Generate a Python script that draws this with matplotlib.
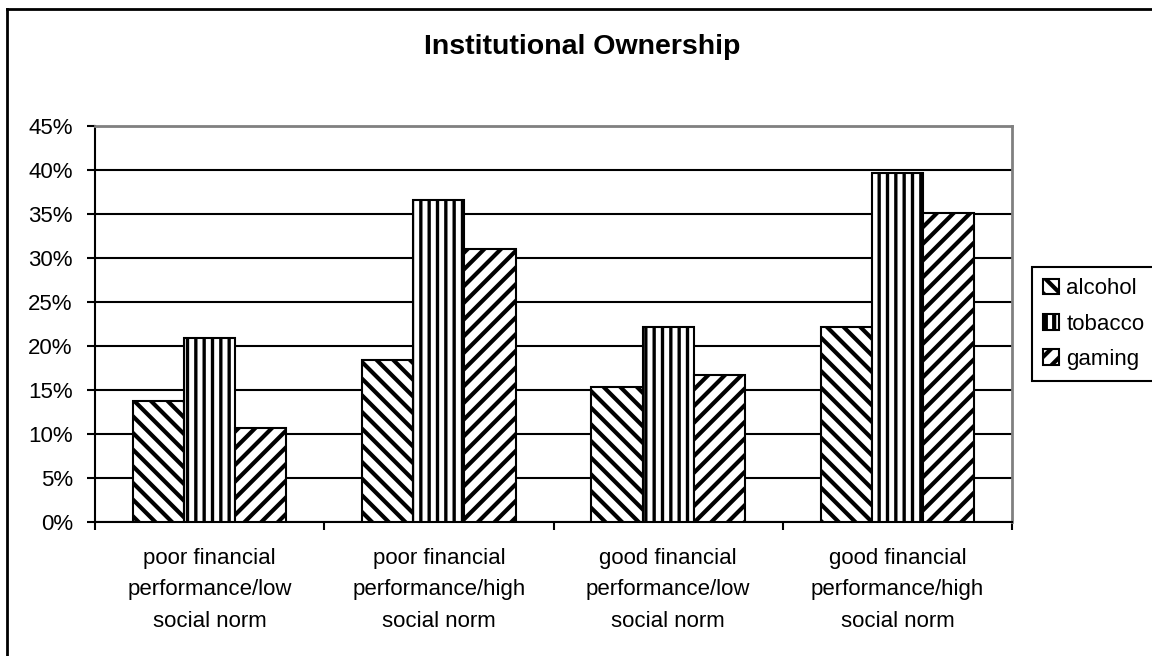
import numpy as np
import matplotlib
matplotlib.use("Agg")
import matplotlib.pyplot as plt
from matplotlib.lines import Line2D
from matplotlib.ticker import PercentFormatter, FixedLocator

plt.rcParams['font.family'] = ['Liberation Sans', 'DejaVu Sans']

# data (fractions of ownership)
categories = ["poor financial\nperformance/low\nsocial norm",
              "poor financial\nperformance/high\nsocial norm",
              "good financial\nperformance/low\nsocial norm",
              "good financial\nperformance/high\nsocial norm"]
series = ["alcohol", "tobacco", "gaming"]
alcohol = [0.137, 0.184, 0.153, 0.222]
tobacco = [0.209, 0.366, 0.222, 0.397]
gaming = [0.107, 0.310, 0.167, 0.351]
yticks = [0.0, 0.05, 0.10, 0.15, 0.20, 0.25, 0.30, 0.35, 0.40, 0.45]

hatches = ["\\\\", "||", "//"]
hatch_lw = [3.0, 2.4, 3.0]

fig = plt.figure(figsize=(11.52, 6.56), dpi=100)
ax = fig.add_axes([0.0825, 0.2043, 0.7960, 0.6036])

x = np.arange(len(categories))
w = 0.223
for k, (name, vals) in enumerate(zip(series, [alcohol, tobacco, gaming])):
    plt.rcParams['hatch.linewidth'] = hatch_lw[k]
    ax.bar(x + (k - 1) * w, vals, width=w, facecolor='white', edgecolor='black',
           hatch=hatches[k], linewidth=1.5, label=name, zorder=3)

ax.set_xlim(-0.5, 3.5)
ax.set_ylim(0, 0.45)
ax.set_yticks(yticks)
ax.yaxis.set_major_formatter(PercentFormatter(1.0, decimals=0))
ax.tick_params(axis='y', direction='out', length=6, width=1.5, pad=10, labelsize=16)

ax.set_xticks(x)
ax.set_xticklabels(categories, fontsize=16, linespacing=1.63)
ax.tick_params(axis='x', which='major', length=0, pad=19)
ax.xaxis.set_minor_locator(FixedLocator(np.arange(-0.5, 4.0, 1.0)))
ax.tick_params(axis='x', which='minor', direction='out', length=6, width=1.5)

ax.grid(axis='y', color='black', linewidth=1.5, zorder=0)
ax.set_axisbelow(True)
for side in ['left', 'bottom']:
    ax.spines[side].set_color('black')
    ax.spines[side].set_linewidth(1.5)
for side in ['top', 'right']:
    ax.spines[side].set_color('#808080')
    ax.spines[side].set_linewidth(2)

fig.text(0.505, 0.928, "Institutional Ownership", ha='center', va='center',
         fontsize=20.5, fontweight='bold')

leg = fig.legend(loc='center left', bbox_to_anchor=(0.8958, 0.506), fontsize=16,
                 handlelength=0.7, handleheight=0.7, handletextpad=0.35,
                 labelspacing=0.65, borderpad=0.5, borderaxespad=0,
                 fancybox=False, shadow=False, framealpha=1, edgecolor='black')
leg.get_frame().set_linewidth(1.5)

# outer chart frame
fig.add_artist(Line2D([7 / 1152, 1.0], [1 - 9 / 656, 1 - 9 / 656], color='black', linewidth=2))
fig.add_artist(Line2D([7 / 1152, 7 / 1152], [0.0, 1 - 9 / 656], color='black', linewidth=2))

fig.savefig("out.png", dpi=100)
